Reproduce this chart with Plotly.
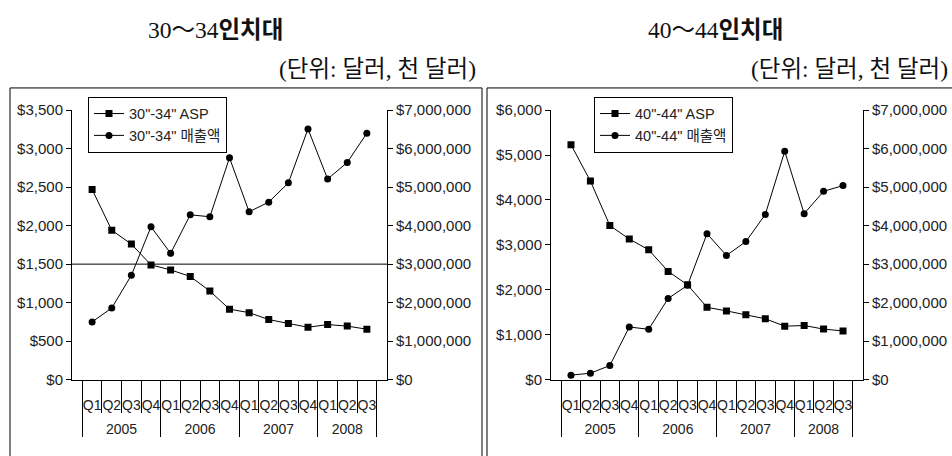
import plotly.graph_objects as go

years = ["2005"] * 4 + ["2006"] * 4 + ["2007"] * 4 + ["2008"] * 3
quarters = ["Q1", "Q2", "Q3", "Q4"] * 3 + ["Q1", "Q2", "Q3"]

asp_30 = [2470, 1940, 1760, 1490, 1425, 1340, 1150, 915, 870, 780, 730, 680, 715, 695, 655]
rev_30 = [1500000, 1860000, 2710000, 3970000, 3280000, 4280000, 4230000, 5760000,
          4360000, 4610000, 5110000, 6510000, 5210000, 5640000, 6400000]
asp_40 = [5230, 4420, 3430, 3130, 2890, 2410, 2110, 1610, 1530, 1445, 1355, 1190, 1205, 1125, 1085]
rev_40 = [117000, 167000, 367000, 1367000, 1308000, 2108000, 2450000, 3790000,
          3225000, 3585000, 4290000, 5930000, 4310000, 4890000, 5040000]

ref_line_30 = 1500

W, H = 952, 456
def px(x): return x / W
def py(y): return (H - y) / H

TICK_FONT = dict(family="Liberation Sans, Noto Sans CJK KR", size=15, color="#222")
XTICK_FONT = dict(family="Liberation Sans Narrow, Liberation Sans, sans-serif", size=14, color="#222")
LEG_FONT = dict(family="Liberation Sans, Noto Sans CJK KR", size=14.5, color="#222")
TITLE_FONT = dict(family="Liberation Serif, Noto Sans CJK KR", size=23.5, color="#111")
SUB_FONT = dict(family="Liberation Serif, Noto Sans CJK KR", size=23.5, color="#111")

# an invisible second line on the quarter labels pushes the year row down
x = [years, [q + "<br><span style='color:rgba(0,0,0,0)'>.</span>" for q in quarters]]
line = dict(color="black", width=1)

fig = go.Figure()
fig.add_trace(go.Scatter(x=x, y=asp_30, name='30"-34" ASP', mode="lines+markers",
                         line=line, marker=dict(symbol="square", size=7, color="black"),
                         xaxis="x", yaxis="y", legend="legend"))
fig.add_trace(go.Scatter(x=x, y=rev_30, name='30"-34" 매출액', mode="lines+markers",
                         line=line, marker=dict(symbol="circle", size=7, color="black"),
                         xaxis="x", yaxis="y2", legend="legend"))
fig.add_trace(go.Scatter(x=x, y=asp_40, name='40"-44" ASP', mode="lines+markers",
                         line=line, marker=dict(symbol="square", size=7, color="black"),
                         xaxis="x2", yaxis="y3", legend="legend2"))
fig.add_trace(go.Scatter(x=x, y=rev_40, name='40"-44" 매출액', mode="lines+markers",
                         line=line, marker=dict(symbol="circle", size=7, color="black"),
                         xaxis="x2", yaxis="y4", legend="legend2"))

ydom = [py(385), py(105)]
xcommon = dict(type="multicategory", showline=True, linecolor="black", linewidth=1,
               ticks="outside", tickson="boundaries", ticklen=32, tickcolor="black",
               tickangle=0, ticklabelstandoff=13, showdividers=True, dividercolor="black",
               dividerwidth=1, showgrid=False, tickfont=XTICK_FONT, zeroline=False)
ycommon = dict(showline=True, linecolor="black", linewidth=1, ticks="outside", ticklen=5,
               tickcolor="black", showgrid=False, zeroline=False, tickprefix="$",
               tickformat=",", tickfont=TICK_FONT)

fig.update_layout(
    width=W, height=H, margin=dict(l=0, r=0, t=0, b=0),
    paper_bgcolor="white", plot_bgcolor="white", showlegend=True,
    xaxis=dict(domain=[px(72), px(387)], anchor="y", **xcommon),
    xaxis2=dict(domain=[px(551), px(863)], anchor="y3", **xcommon),
    yaxis=dict(domain=ydom, anchor="x", range=[0, 3500], dtick=500, **ycommon),
    yaxis2=dict(overlaying="y", side="right", anchor="x", range=[0, 7000000], dtick=1000000, **ycommon),
    yaxis3=dict(domain=ydom, anchor="x2", range=[0, 6000], dtick=1000, **ycommon),
    yaxis4=dict(overlaying="y3", side="right", anchor="x2", range=[0, 7000000], dtick=1000000, **ycommon),
    legend=dict(x=px(88), y=py(91), xanchor="left", yanchor="top", bgcolor="white",
                bordercolor="black", borderwidth=1, font=LEG_FONT, tracegroupgap=0,
                itemwidth=30),
    legend2=dict(x=px(594), y=py(91), xanchor="left", yanchor="top", bgcolor="white",
                 bordercolor="black", borderwidth=1, font=LEG_FONT, tracegroupgap=0,
                 itemwidth=30),
)

# reference horizontal line on left chart
fig.add_shape(type="line", xref="x domain", x0=0, x1=1, yref="y", y0=ref_line_30, y1=ref_line_30,
              line=dict(color="black", width=1))

# frames
fig.add_shape(type="rect", xref="paper", yref="paper", x0=px(10), x1=px(482), y0=-0.2, y1=py(82),
              line=dict(color="black", width=1), layer="below")
fig.add_shape(type="rect", xref="paper", yref="paper", x0=px(487), x1=1.2, y0=-0.2, y1=py(82),
              line=dict(color="black", width=1), layer="below")

# titles
fig.add_annotation(text="30～34<b>인치대</b>", x=px(215), y=py(22), xref="paper", yref="paper",
                   showarrow=False, font=TITLE_FONT, xanchor="center", yanchor="middle")
fig.add_annotation(text="(단위: 달러, 천 달러)", x=px(478), y=py(62), xref="paper", yref="paper",
                   showarrow=False, font=SUB_FONT, xanchor="right", yanchor="middle")
fig.add_annotation(text="40～44<b>인치대</b>", x=px(715), y=py(22), xref="paper", yref="paper",
                   showarrow=False, font=TITLE_FONT, xanchor="center", yanchor="middle")
fig.add_annotation(text="(단위: 달러, 천 달러)", x=px(950), y=py(62), xref="paper", yref="paper",
                   showarrow=False, font=SUB_FONT, xanchor="right", yanchor="middle")

fig.write_html("out.html")
